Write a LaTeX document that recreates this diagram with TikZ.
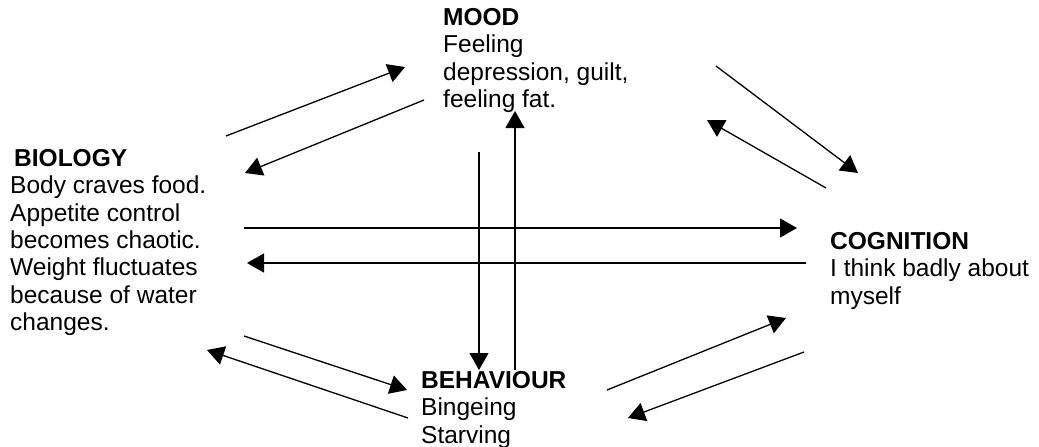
\documentclass[tikz,border=0pt]{standalone}
\usepackage{fontspec}
\setmainfont{Liberation Sans}
\usetikzlibrary{arrows.meta,positioning}

\begin{document}
\begin{tikzpicture}[x=1pt,y=-1pt,
    box/.style={anchor=north west,align=left,inner sep=0pt,font=\fontsize{24.5}{27.4}\selectfont},
    arr/.style={-{Triangle[length=17pt,width=19pt]},line width=1.3pt}]
        \useasboundingbox (0,0) rectangle (1039,447);

        \node[box] (mood) at (443,8)   {\textbf{MOOD}\\Feeling\\depression, guilt,\\feeling fat.};
        \node[box] (bio)  at (10,149)  {\hspace*{4pt}\textbf{BIOLOGY}\\Body craves food.\\Appetite control\\becomes chaotic.\\Weight fluctuates\\because of water\\changes.};
        \node[box] (cog)  at (830,232) {\textbf{COGNITION}\\I think badly about\\myself};
        \node[box] (beh)  at (421,371) {\textbf{BEHAVIOUR}\\Bingeing\\Starving};

        \coordinate (bm1) at (226,136);  \coordinate (bm2) at (405,67);
        \coordinate (mb1) at (424,100);  \coordinate (mb2) at (245,173);
        \coordinate (mc1) at (716,66);   \coordinate (mc2) at (858,173);
        \coordinate (cm1) at (826,188);  \coordinate (cm2) at (707,120);
        \coordinate (bc1) at (244,228);  \coordinate (bc2) at (797,228);
        \coordinate (cb1) at (806,263);  \coordinate (cb2) at (247,263);
        \coordinate (me1) at (479,152);  \coordinate (me2) at (479,370);
        \coordinate (em1) at (515,370);  \coordinate (em2) at (515,111);
        \coordinate (be1) at (244,336);  \coordinate (be2) at (407,390);
        \coordinate (eb1) at (408,418);  \coordinate (eb2) at (207,350);
        \coordinate (ec1) at (607,390);  \coordinate (ec2) at (786,318);
        \coordinate (ce1) at (804,352);  \coordinate (ce2) at (628,418);

        \path [arr] (bm1) edge (bm2);
        \path [arr] (mb1) edge (mb2);
        \path [arr] (mc1) edge (mc2);
        \path [arr] (cm1) edge (cm2);
        \path [arr] (bc1) edge (bc2);
        \path [arr] (cb1) edge (cb2);
        \path [arr] (me1) edge (me2);
        \path [arr] (em1) edge (em2);
        \path [arr] (be1) edge (be2);
        \path [arr] (eb1) edge (eb2);
        \path [arr] (ec1) edge (ec2);
        \path [arr] (ce1) edge (ce2);

    \end{tikzpicture}
\end{document}
